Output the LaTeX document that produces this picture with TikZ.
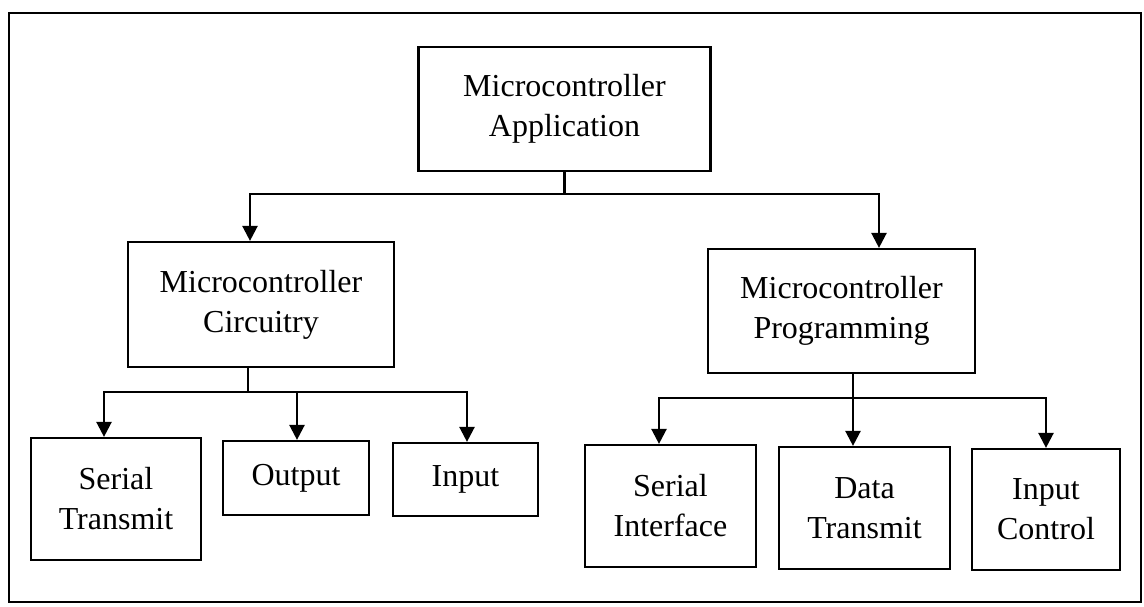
\documentclass[tikz,border=0pt]{standalone}
\usepackage{fontspec}
\setmainfont{Liberation Serif}
\usetikzlibrary{arrows.meta,calc}
\begin{document}
\begin{tikzpicture}[x=1pt,y=-1pt,
  box/.style={draw, line width=2.2pt, inner sep=0pt, align=center,
              font=\fontsize{32}{40}\selectfont},
  link/.style={line width=2.4pt},
  arr/.style={link, -{Triangle[width=15pt,length=15pt]}}]
\useasboundingbox (0,0) rectangle (1144,606);

% outer frame
\draw[line width=2pt] (9,13) rectangle (1141,602);

% top level
\node[box, minimum width=292pt, minimum height=124pt] (app) at (564.5,109)
  {Microcontroller\\Application};

% second level
\node[box, minimum width=266pt, minimum height=125pt] (circ) at (261,304.5)
  {Microcontroller\\Circuitry};
\node[box, minimum width=267pt, minimum height=124pt] (prog) at (841.5,311)
  {Microcontroller\\Programming};

% third level under the circuitry branch
\node[box, minimum width=170pt, minimum height=122pt] (sertx) at (116,499)
  {Serial\\Transmit};
\node[box, minimum width=146pt, minimum height=74pt] (out) at (296,478)
  {Output};
\node[box, minimum width=145pt, minimum height=73pt] (inp) at (465.5,479.5)
  {Input};

% third level under the programming branch
\node[box, minimum width=171pt, minimum height=122pt] (serif) at (670.5,506)
  {Serial\\Interface};
\node[box, minimum width=171pt, minimum height=122pt] (datatx) at (864.5,508)
  {Data\\Transmit};
\node[box, minimum width=148pt, minimum height=121pt] (inctl) at (1046,509.5)
  {Input\\Control};

% bus from the top box to both branches
\coordinate (busA) at (564.5,194);
\draw[link] (app.south) -- (busA);
\draw[arr] (busA) -| ([xshift=-11pt]circ.north);
\draw[arr] (busA) -| ([xshift=37.5pt]prog.north);

% circuitry bus
\coordinate (busB) at (248,392);
\draw[link] ([xshift=-13pt]circ.south) -- (busB);
\draw[arr] (busB) -| ([xshift=-12pt]sertx.north);
\draw[arr] (busB) -| ([xshift=1pt]out.north);
\draw[arr] (busB) -| ([xshift=1.5pt]inp.north);

% programming bus
\coordinate (busC) at (853,398);
\draw[arr] ([xshift=11.5pt]prog.south) -- ([xshift=-11.5pt]datatx.north);
\draw[arr] (busC) -| ([xshift=-11.5pt]serif.north);
\draw[arr] (busC) -| (inctl.north);
\end{tikzpicture}
\end{document}
